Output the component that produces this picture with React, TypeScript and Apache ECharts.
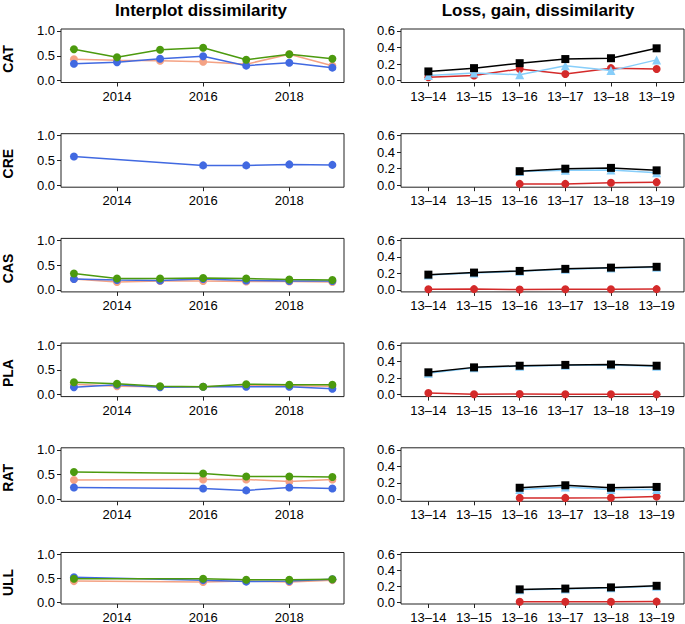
import React, { useEffect, useRef } from "react";
import * as echarts from "echarts";

// ---------- data ----------
const years = [2013, 2014, 2015, 2016, 2017, 2018, 2019];
const periods = ["13–14", "13–15", "13–16", "13–17", "13–18", "13–19"];
const sites = ["CAT", "CRE", "CAS", "PLA", "RAT", "ULL"];
const yearTicks = [2014, 2016, 2018];
const leftYTicks = [0, 0.5, 1.0];
const rightYTicks = [0, 0.2, 0.4, 0.6];

// Interplot dissimilarity (salmon, blue, green) per site, by year
const salmonCAT = [0.43, 0.41, 0.4, 0.38, 0.33, 0.53, 0.3];
const blueCAT = [0.34, 0.37, 0.44, 0.49, 0.3, 0.36, 0.26];
const greenCAT = [0.63, 0.47, 0.62, 0.66, 0.42, 0.53, 0.44];

const salmonCRE = [null, null, null, null, null, null, null];
const blueCRE = [0.58, null, null, 0.4, 0.4, 0.42, 0.41];
const greenCRE = [null, null, null, null, null, null, null];

const salmonCAS = [0.22, 0.16, 0.18, 0.18, 0.17, 0.17, 0.16];
const blueCAS = [0.22, 0.2, 0.19, 0.22, 0.19, 0.18, 0.18];
const greenCAS = [0.33, 0.23, 0.23, 0.24, 0.23, 0.21, 0.2];

const salmonPLA = [0.21, 0.17, 0.16, 0.16, 0.18, 0.18, 0.17];
const bluePLA = [0.15, 0.2, 0.15, 0.16, 0.16, 0.16, 0.12];
const greenPLA = [0.25, 0.22, 0.17, 0.16, 0.21, 0.2, 0.2];

const salmonRAT = [0.39, null, null, 0.4, 0.4, 0.36, 0.4];
const blueRAT = [0.24, null, null, 0.22, 0.18, 0.24, 0.22];
const greenRAT = [0.55, null, null, 0.52, 0.46, 0.46, 0.45];

const salmonULL = [0.44, null, null, 0.42, 0.44, 0.42, 0.46];
const blueULL = [0.52, null, null, 0.46, 0.43, 0.44, 0.48];
const greenULL = [0.49, null, null, 0.49, 0.47, 0.47, 0.48];

// Loss (red), gain (light blue), dissimilarity (black) per site, by period
const lossCAT = [0.04, 0.06, 0.14, 0.08, 0.15, 0.14];
const gainCAT = [0.06, 0.09, 0.07, 0.18, 0.12, 0.25];
const dissimCAT = [0.11, 0.15, 0.21, 0.26, 0.27, 0.39];

const lossCRE = [null, null, 0.016, 0.016, 0.03, 0.037];
const gainCRE = [null, null, 0.165, 0.18, 0.185, 0.15];
const dissimCRE = [null, null, 0.17, 0.2, 0.21, 0.18];

const lossCAS = [0.008, 0.01, 0.005, 0.008, 0.008, 0.01];
const gainCAS = [0.18, 0.205, 0.225, 0.25, 0.265, 0.275];
const dissimCAS = [0.185, 0.21, 0.23, 0.255, 0.27, 0.28];

const lossPLA = [0.02, 0.005, 0.007, 0.005, 0.005, 0.003];
const gainPLA = [0.26, 0.325, 0.345, 0.355, 0.36, 0.345];
const dissimPLA = [0.27, 0.33, 0.35, 0.36, 0.365, 0.35];

const lossRAT = [null, null, 0.017, 0.017, 0.02, 0.033];
const gainRAT = [null, null, 0.12, 0.15, 0.12, 0.12];
const dissimRAT = [null, null, 0.14, 0.17, 0.14, 0.15];

const lossULL = [null, null, 0.004, 0.004, 0.004, 0.006];
const gainULL = [null, null, 0.155, 0.165, 0.18, 0.2];
const dissimULL = [null, null, 0.16, 0.17, 0.185, 0.205];

const leftData = [
  [salmonCAT, blueCAT, greenCAT],
  [salmonCRE, blueCRE, greenCRE],
  [salmonCAS, blueCAS, greenCAS],
  [salmonPLA, bluePLA, greenPLA],
  [salmonRAT, blueRAT, greenRAT],
  [salmonULL, blueULL, greenULL],
];
const rightData = [
  [lossCAT, gainCAT, dissimCAT],
  [lossCRE, gainCRE, dissimCRE],
  [lossCAS, gainCAS, dissimCAS],
  [lossPLA, gainPLA, dissimPLA],
  [lossRAT, gainRAT, dissimRAT],
  [lossULL, gainULL, dissimULL],
];

// ---------- styles ----------
const FONT = "Liberation Sans, Arial, Helvetica, sans-serif";
const leftColors = ["#F4A284", "#4169E1", "#4C9A0E"];
const rightColors = ["#D42A2A", "#87CEFA", "#000000"];
const rightSymbols = ["circle", "triangle", "rect"];
const rightSizes = [8, 9, 8];

export default function App() {
  const ref = useRef<HTMLDivElement>(null);

  useEffect(() => {
    if (!ref.current) return;
    const chart = echarts.init(ref.current, null, { renderer: "svg" });

    const grids: any[] = [];
    const xAxes: any[] = [];
    const yAxes: any[] = [];
    const series: any[] = [];
    const graphics: any[] = [];
    const boxH = 53.5;
    const rowStep = 104.7;

    const baseAxis = {
      splitLine: { show: false },
      axisLine: { show: false, onZero: false },
    };

    sites.forEach((site, r) => {
      const top = 29 + r * rowStep;
      const gl = r * 2;
      const gr = r * 2 + 1;
      grids.push({ left: 61, top, width: 283, height: boxH, show: true, borderColor: "#222", borderWidth: 1 });
      grids.push({ left: 401, top, width: 283, height: boxH, show: true, borderColor: "#222", borderWidth: 1 });

      xAxes.push({
        ...baseAxis,
        gridIndex: gl,
        type: "value",
        min: 2012.7,
        max: 2019.27,
        axisTick: { show: true, length: 4, customValues: yearTicks, lineStyle: { color: "#222" } },
        axisLabel: { customValues: yearTicks, color: "#000", fontSize: 13, fontFamily: FONT, margin: 7, formatter: (v: number) => String(v) },
      });
      xAxes.push({
        ...baseAxis,
        gridIndex: gr,
        type: "value",
        min: 0.4,
        max: 6.6,
        axisTick: { show: true, length: 4, customValues: [1, 2, 3, 4, 5, 6], lineStyle: { color: "#222" } },
        axisLabel: {
          customValues: [1, 2, 3, 4, 5, 6],
          color: "#000",
          fontSize: 13,
          fontFamily: FONT,
          margin: 7,
          formatter: (v: number) => periods[Math.round(v) - 1],
        },
      });
      yAxes.push({
        ...baseAxis,
        gridIndex: gl,
        type: "value",
        min: -0.04,
        max: 1.04,
        axisTick: { show: true, length: 4, customValues: leftYTicks, lineStyle: { color: "#222" } },
        axisLabel: { customValues: leftYTicks, color: "#000", fontSize: 13, fontFamily: FONT, margin: 6, formatter: (v: number) => v.toFixed(1) },
      });
      yAxes.push({
        ...baseAxis,
        gridIndex: gr,
        type: "value",
        min: -0.024,
        max: 0.624,
        axisTick: { show: true, length: 4, customValues: rightYTicks, lineStyle: { color: "#222" } },
        axisLabel: { customValues: rightYTicks, color: "#000", fontSize: 13, fontFamily: FONT, margin: 6, formatter: (v: number) => v.toFixed(1) },
      });

      leftData[r].forEach((vals, k) => {
        const data = years
          .map((y, i) => (vals[i] == null ? null : [y, vals[i]]))
          .filter((d) => d !== null);
        series.push({
          type: "line",
          xAxisIndex: gl,
          yAxisIndex: gl,
          data,
          symbol: "circle",
          symbolSize: 8,
          showSymbol: true,
          color: leftColors[k],
          lineStyle: { width: 1.5, color: leftColors[k] },
          itemStyle: { color: leftColors[k] },
          z: 2 + k,
        });
      });

      rightData[r].forEach((vals, k) => {
        const data = periods
          .map((p, i) => (vals[i] == null ? null : [i + 1, vals[i]]))
          .filter((d) => d !== null);
        series.push({
          type: "line",
          xAxisIndex: gr,
          yAxisIndex: gr,
          data,
          symbol: rightSymbols[k],
          symbolSize: rightSizes[k],
          showSymbol: true,
          color: rightColors[k],
          lineStyle: { width: 1.5, color: rightColors[k] },
          itemStyle: { color: rightColors[k] },
          z: 2 + k,
        });
      });

      graphics.push({
        type: "text",
        x: 8,
        y: top + 30,
        rotation: Math.PI / 2,
        style: {
          text: site,
          font: `bold 14px ${FONT}`,
          fill: "#000",
          textAlign: "center",
          textVerticalAlign: "middle",
        },
      });
    });

    graphics.push({
      type: "text",
      x: 201,
      y: 10,
      style: { text: "Interplot dissimilarity", font: `bold 17px ${FONT}`, fill: "#000", textAlign: "center", textVerticalAlign: "middle" },
    });
    graphics.push({
      type: "text",
      x: 538,
      y: 10,
      style: { text: "Loss, gain, dissimilarity", font: `bold 17px ${FONT}`, fill: "#000", textAlign: "center", textVerticalAlign: "middle" },
    });

    chart.setOption({
      animation: false,
      backgroundColor: "#fff",
      grid: grids,
      xAxis: xAxes,
      yAxis: yAxes,
      series,
      graphic: graphics,
    });

    return () => chart.dispose();
  }, []);

  return (
    <div
      ref={ref}
      style={{ position: "fixed", left: 0, top: 0, width: 685, height: 624, background: "#fff" }}
    />
  );
}
